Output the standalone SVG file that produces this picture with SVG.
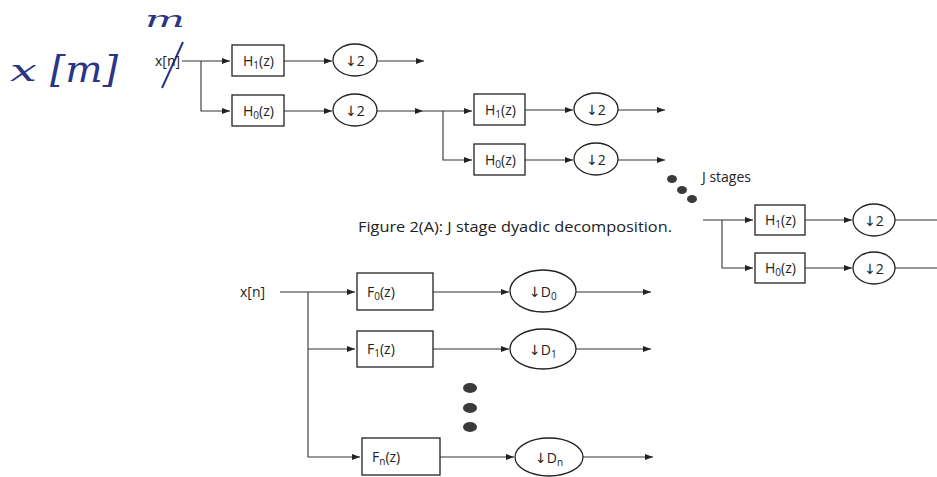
<svg xmlns="http://www.w3.org/2000/svg" width="937" height="477" viewBox="0 0 937 477">
<defs>
<style>
.box{fill:none;stroke:#222;stroke-width:1.3}
.blk{fill:none;stroke:#222;stroke-width:1.3}
.wire{fill:none;stroke:#333;stroke-width:1.1}
.lbl{font-family:"Open Sans","Liberation Sans",sans-serif;font-size:14px;fill:#222}
.ar{font-family:"DejaVu Sans",sans-serif;font-size:14px}
.hand{font-family:"DejaVu Serif","Liberation Serif",serif;font-style:italic;fill:#2a3585}
.dot{fill:#3a3a3a}
</style>
<marker id="arr" viewBox="0 0 8 6" refX="8" refY="3" markerWidth="8" markerHeight="6" markerUnits="userSpaceOnUse" orient="auto">
<path d="M0,0 L8,3 L0,6 z" fill="#222"/>
</marker>
</defs>
<rect width="937" height="477" fill="#ffffff"/>

<!-- handwritten annotations -->
<g id="handwriting">
<text class="hand" x="145" y="27" font-size="22" textLength="40" lengthAdjust="spacingAndGlyphs">m</text>
<text class="hand" x="10" y="81" font-size="30" textLength="27" lengthAdjust="spacingAndGlyphs">x</text>
<text class="hand" x="50" y="82" font-size="38" textLength="68" lengthAdjust="spacingAndGlyphs">[m]</text>
<line x1="162" y1="88" x2="183" y2="42" stroke="#2a3585" stroke-width="2"/>
</g>

<g id="connectors">
<!-- stage 1 -->
<path class="wire" d="M182 61 H230" marker-end="url(#arr)"/>
<path class="wire" d="M201 61 V111 H230" marker-end="url(#arr)"/>
<path class="wire" d="M284 61 H332" marker-end="url(#arr)"/>
<path class="wire" d="M284 111 H332" marker-end="url(#arr)"/>
<path class="wire" d="M377 61 H424" marker-end="url(#arr)"/>
<path class="wire" d="M377 111 H423" marker-end="url(#arr)"/>
<!-- stage 2 -->
<path class="wire" d="M423 111 H472" marker-end="url(#arr)"/>
<path class="wire" d="M443 111 V160 H472" marker-end="url(#arr)"/>
<path class="wire" d="M525 110 H573" marker-end="url(#arr)"/>
<path class="wire" d="M525 160 H573" marker-end="url(#arr)"/>
<path class="wire" d="M618 110 H665" marker-end="url(#arr)"/>
<path class="wire" d="M618 160 H665" marker-end="url(#arr)"/>
<!-- stage J -->
<path class="wire" d="M703 220 H753" marker-end="url(#arr)"/>
<path class="wire" d="M722 220 V268 H753" marker-end="url(#arr)"/>
<path class="wire" d="M805 220 H852" marker-end="url(#arr)"/>
<path class="wire" d="M805 268 H852" marker-end="url(#arr)"/>
<path class="wire" d="M895 220 H937"/>
<path class="wire" d="M895 268 H937"/>
<!-- filter bank -->
<path class="wire" d="M280 292 H355" marker-end="url(#arr)"/>
<path class="wire" d="M308 292 V457 H360" marker-end="url(#arr)"/>
<path class="wire" d="M308 349 H355" marker-end="url(#arr)"/>
<path class="wire" d="M433 292 H509" marker-end="url(#arr)"/>
<path class="wire" d="M433 349 H509" marker-end="url(#arr)"/>
<path class="wire" d="M440 457 H514" marker-end="url(#arr)"/>
<path class="wire" d="M576 292 H651" marker-end="url(#arr)"/>
<path class="wire" d="M576 349 H651" marker-end="url(#arr)"/>
<path class="wire" d="M583 457 H653" marker-end="url(#arr)"/>
</g>

<!-- stage 1 -->
<g id="xn1"><text class="lbl" x="155" y="66" font-size="13">x[n]</text></g>
<g id="s1h1"><rect class="box" x="232" y="45" width="52" height="31"/>
<text class="lbl" x="243" y="66">H<tspan dy="3" font-size="10">1</tspan><tspan dy="-3">(z)</tspan></text></g>
<g id="s1h0"><rect class="box" x="232" y="95" width="52" height="31"/>
<text class="lbl" x="243" y="116">H<tspan dy="3" font-size="10">0</tspan><tspan dy="-3">(z)</tspan></text></g>
<g id="s1d1"><ellipse class="blk" cx="355" cy="60" rx="22" ry="16"/>
<text class="lbl" x="355" y="66" font-size="16" text-anchor="middle"><tspan class="ar">↓</tspan>2</text></g>
<g id="s1d0"><ellipse class="blk" cx="355" cy="110" rx="22" ry="16"/>
<text class="lbl" x="355" y="116" font-size="16" text-anchor="middle"><tspan class="ar">↓</tspan>2</text></g>

<!-- stage 2 -->
<g id="s2h1"><rect class="box" x="474" y="94" width="51" height="31"/>
<text class="lbl" x="485" y="115">H<tspan dy="3" font-size="10">1</tspan><tspan dy="-3">(z)</tspan></text></g>
<g id="s2h0"><rect class="box" x="474" y="144" width="51" height="31"/>
<text class="lbl" x="485" y="165">H<tspan dy="3" font-size="10">0</tspan><tspan dy="-3">(z)</tspan></text></g>
<g id="s2d1"><ellipse class="blk" cx="596" cy="109" rx="22" ry="16"/>
<text class="lbl" x="596" y="115" font-size="16" text-anchor="middle"><tspan class="ar">↓</tspan>2</text></g>
<g id="s2d0"><ellipse class="blk" cx="596" cy="159" rx="22" ry="16"/>
<text class="lbl" x="596" y="165" font-size="16" text-anchor="middle"><tspan class="ar">↓</tspan>2</text></g>

<!-- J stages dots -->
<g id="jdots">
<ellipse class="dot" cx="672" cy="179" rx="5" ry="4"/>
<ellipse class="dot" cx="682" cy="190" rx="5" ry="4"/>
<ellipse class="dot" cx="692" cy="199" rx="5" ry="4"/>
<text class="lbl" x="702" y="182">J stages</text>
</g>

<g id="caption"><text class="lbl" x="358" y="232" font-size="15" textLength="314" lengthAdjust="spacingAndGlyphs">Figure 2(A): J stage dyadic decomposition.</text></g>

<!-- stage J -->
<g id="sjh1"><rect class="box" x="755" y="205" width="50" height="30"/>
<text class="lbl" x="765" y="225">H<tspan dy="3" font-size="10">1</tspan><tspan dy="-3">(z)</tspan></text></g>
<g id="sjh0"><rect class="box" x="755" y="253" width="50" height="30"/>
<text class="lbl" x="765" y="273">H<tspan dy="3" font-size="10">0</tspan><tspan dy="-3">(z)</tspan></text></g>
<g id="sjd1"><ellipse class="blk" cx="874" cy="220" rx="21" ry="16"/>
<text class="lbl" x="874" y="226" font-size="16" text-anchor="middle"><tspan class="ar">↓</tspan>2</text></g>
<g id="sjd0"><ellipse class="blk" cx="874" cy="268" rx="21" ry="16"/>
<text class="lbl" x="874" y="274" font-size="16" text-anchor="middle"><tspan class="ar">↓</tspan>2</text></g>

<!-- filter bank -->
<g id="xn2"><text class="lbl" x="240" y="297" font-size="15">x[n]</text></g>
<g id="f0"><rect class="box" x="357" y="273" width="76" height="37"/>
<text class="lbl" x="367" y="297">F<tspan dy="3" font-size="10">0</tspan><tspan dy="-3">(z)</tspan></text></g>
<g id="f1"><rect class="box" x="357" y="331" width="76" height="36"/>
<text class="lbl" x="367" y="354">F<tspan dy="3" font-size="10">1</tspan><tspan dy="-3">(z)</tspan></text></g>
<g id="fn"><rect class="box" x="362" y="438" width="78" height="37"/>
<text class="lbl" x="372" y="462">F<tspan dy="3" font-size="10">n</tspan><tspan dy="-3">(z)</tspan></text></g>
<g id="d0"><ellipse class="blk" cx="543" cy="291" rx="33" ry="21"/>
<text class="lbl" x="529" y="297" font-size="16"><tspan class="ar">↓</tspan>D<tspan dy="3" font-size="10">0</tspan></text></g>
<g id="d1"><ellipse class="blk" cx="543" cy="349" rx="33" ry="20"/>
<text class="lbl" x="529" y="355" font-size="16"><tspan class="ar">↓</tspan>D<tspan dy="3" font-size="10">1</tspan></text></g>
<g id="dn"><ellipse class="blk" cx="549" cy="457" rx="34" ry="19"/>
<text class="lbl" x="535" y="463" font-size="16"><tspan class="ar">↓</tspan>D<tspan dy="3" font-size="10">n</tspan></text></g>
<g id="fdots">
<ellipse class="dot" cx="470" cy="388" rx="7" ry="5"/>
<ellipse class="dot" cx="470" cy="408" rx="7" ry="5"/>
<ellipse class="dot" cx="470" cy="427" rx="7" ry="5"/>
</g>
</svg>
